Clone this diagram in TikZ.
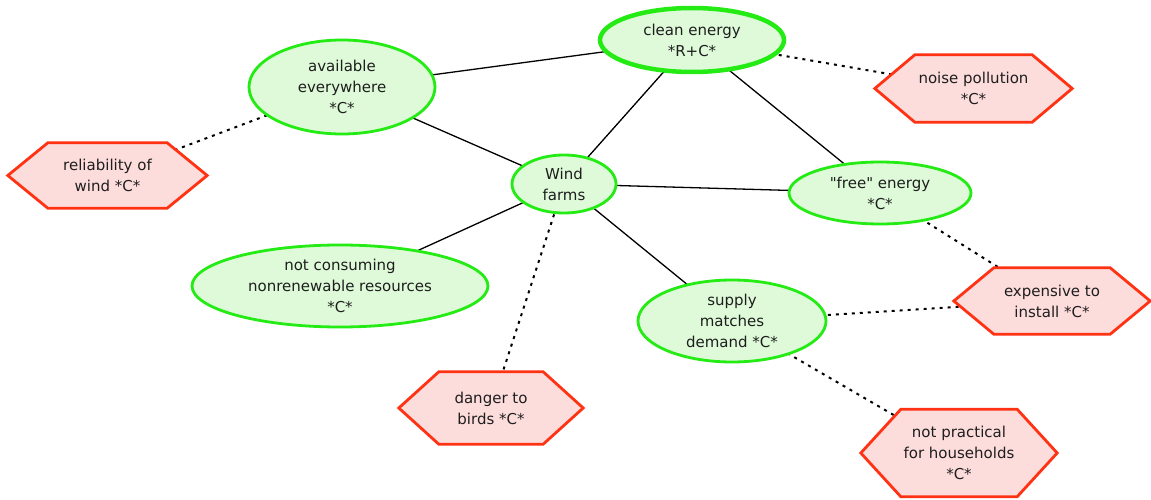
\documentclass[tikz,border=0pt]{standalone}
\usepackage{fontspec}
\setmainfont{DejaVu Sans}
\usetikzlibrary{shapes.geometric}
\pgfdeclarelayer{edges}
\pgfdeclarelayer{bg}
\pgfsetlayers{edges,bg,main}
\definecolor{gstroke}{RGB}{36,235,20}
\definecolor{gfill}{RGB}{222,250,216}
\definecolor{rstroke}{RGB}{255,50,20}
\definecolor{rfill}{RGB}{253,220,220}
\definecolor{txt}{RGB}{30,30,30}
\tikzset{
  claim/.style={ellipse, draw=gstroke, fill=gfill, line width=2.8pt, inner sep=0pt,
    align=center, font=\fontsize{15}{21}\selectfont, text=txt},
  hexnode/.style={rectangle, inner sep=0pt, align=center,
    font=\fontsize{15}{21}\selectfont, text=txt},
  hexline/.style={draw=rstroke, fill=rfill, line width=2.8pt, line join=miter},
  link/.style={line width=1.3pt, black},
  dotlink/.style={line width=2pt, black, dash pattern=on 3pt off 5pt},
}
\newcommand\hexdraw[1]{%
  \begin{pgfonlayer}{bg}
  \path[hexline] ([xshift=40pt]#1.north west) -- ([xshift=-40pt]#1.north east) -- (#1.east)
    -- ([xshift=-40pt]#1.south east) -- ([xshift=40pt]#1.south west) -- (#1.west) -- cycle;
  \end{pgfonlayer}}
\begin{document}
\begin{tikzpicture}[x=1pt,y=-1pt]
\useasboundingbox (0,0) rectangle (1151,500);
% claims
\node[claim, minimum width=184pt, minimum height=64pt, line width=4.5pt] (clean) at (692,40) {clean energy\\*R+C*};
\node[claim, minimum width=186pt, minimum height=94pt] (avail) at (342,87) {available\\everywhere\\*C*};
\node[claim, minimum width=104pt, minimum height=58pt] (wind) at (564,184) {Wind\\farms};
\node[claim, minimum width=182pt, minimum height=62pt] (free) at (880,193) {\textquotedbl free\textquotedbl{} energy\\*C*};
\node[claim, minimum width=296pt, minimum height=82pt] (notcons) at (340,286) {not consuming\\nonrenewable resources\\*C*};
\node[claim, minimum width=188pt, minimum height=82pt] (supply) at (732,321) {supply\\matches\\demand *C*};
% objections
\node[hexnode, minimum width=199pt, minimum height=65pt] (reliab) at (107.5,175.5) {reliability of\\wind *C*};
\node[hexnode, minimum width=197pt, minimum height=67pt] (noise) at (973.5,88.5) {noise pollution\\*C*};
\node[hexnode, minimum width=196pt, minimum height=66pt] (expens) at (1052,301) {expensive to\\install *C*};
\node[hexnode, minimum width=184pt, minimum height=72pt] (danger) at (491,408) {danger to\\birds *C*};
\node[hexnode, minimum width=196pt, minimum height=87pt] (notprac) at (959,453) {not practical\\for households\\*C*};
\hexdraw{reliab}
\hexdraw{noise}
\hexdraw{expens}
\hexdraw{danger}
\hexdraw{notprac}
% connectors
\begin{pgfonlayer}{edges}
\draw[link] (avail.center) -- (clean.center);
\draw[link] (avail.center) -- (wind.center);
\draw[link] (clean.center) -- (wind.center);
\draw[link] (clean.center) -- (free.center);
\draw[link] (wind.center) -- (free.center);
\draw[link] (wind.center) -- (notcons.center);
\draw[link] (wind.center) -- (supply.center);
\draw[dotlink] (avail.center) -- (reliab.center);
\draw[dotlink] (clean.center) -- (noise.center);
\draw[dotlink] (free.center) -- (expens.center);
\draw[dotlink] (supply.center) -- (expens.center);
\draw[dotlink] (supply.center) -- (notprac.center);
\draw[dotlink] (wind.center) -- (danger.center);
\end{pgfonlayer}
\end{tikzpicture}
\end{document}
